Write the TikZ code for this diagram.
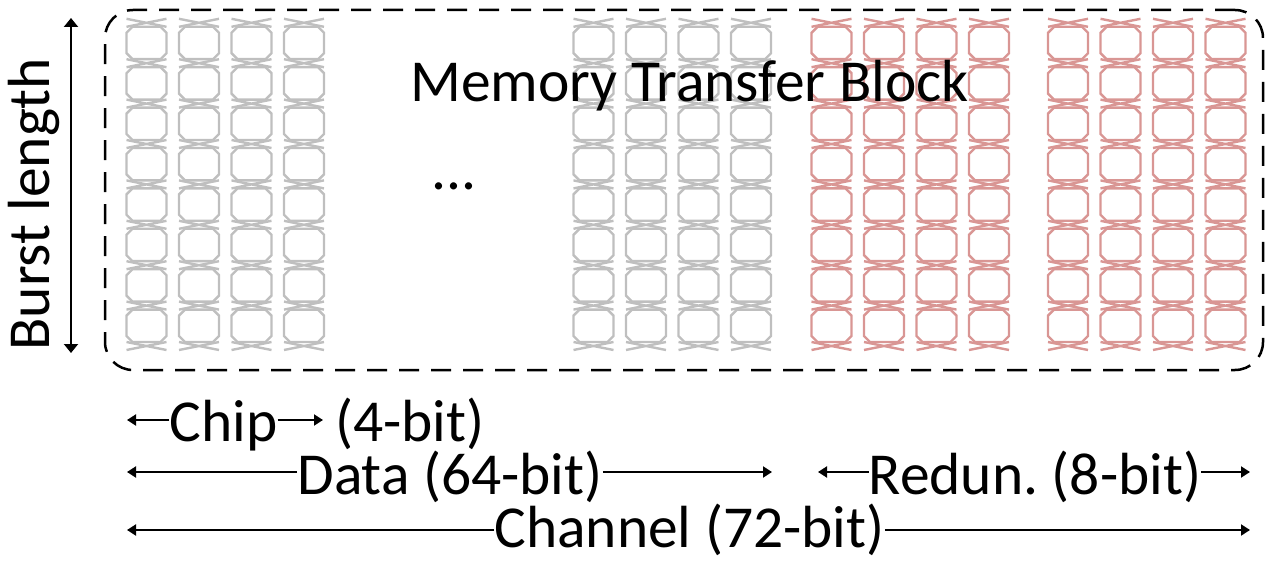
\documentclass[tikz,border=0pt]{standalone}
\usepackage{fontspec}
\setmainfont{Carlito}
\usetikzlibrary{arrows.meta}
\definecolor{eyegrey}{RGB}{191,191,191}
\definecolor{eyered}{RGB}{217,150,148}

% one lane of eye symbols: #1 = left x, #2 = colour
\newcommand\eyecolumn[2]{%
  \begin{scope}[eyeline, draw=#2]
    \foreach \j in {0,...,8}{
      \pgfmathsetmacro\yc{22.8+40.4*\j}
      \draw (#1,\yc-4) -- (#1+40,\yc+4) (#1+40,\yc-4) -- (#1,\yc+4);
    }
    \foreach \k in {0,...,7}{
      \pgfmathsetmacro\ya{22.8+40.4*\k+4}
      \pgfmathsetmacro\yb{22.8+40.4*(\k+1)-4}
      \draw (#1+6,\ya) -- (#1+34,\ya) -- (#1+40,\ya+6) -- (#1+40,\yb-6)
        -- (#1+34,\yb) -- (#1+6,\yb) -- (#1,\yb-6) -- (#1,\ya+6) -- cycle;
    }
  \end{scope}}

\begin{document}
\begin{tikzpicture}[x=1pt,y=-1pt,
  eyeline/.style={line width=2.4pt},
  lbl/.style={font=\fontsize{59.5}{62}\selectfont, inner sep=0pt, anchor=base},
  sarrow/.style={line width=2pt, -{Triangle[length=9pt,width=11pt]}},
  barrow/.style={line width=2pt, {Triangle[length=9pt,width=14pt]}-{Triangle[length=9pt,width=14pt]}},
  frame/.style={draw, line width=2.5pt, dash pattern=on 20pt off 12pt, rounded corners=28pt}]
\useasboundingbox (0,0) rectangle (1269,561);

% lanes of the transfer block
\foreach \x in {126.5,179,231.5,284,573.5,626,678.5,731}{\eyecolumn{\x}{eyegrey}}
\foreach \x in {811.5,864,916.5,969,1048,1100.5,1153,1205.5}{\eyecolumn{\x}{eyered}}

% dashed outline
\node[frame, minimum width=1158pt, minimum height=360pt, inner sep=0pt] (block) at (684,190) {};

\node[lbl] (title) at (689.5,102) {Memory Transfer Block};
\node[lbl] (dots) at (454,190) {...};

% burst length
\node[lbl, rotate=90] (burst) at (49,204.5) {Burst length};
\coordinate (bt) at (71,18);
\coordinate (bb) at (71,353);
\draw[barrow] (bt) -- (bb);

% widths
\node[lbl] (chip) at (223.5,441) {Chip};
\node[lbl] (chipbits) at (410,441) {(4-bit)};
\coordinate (chipL) at (127,420);
\coordinate (chipR) at (323,420);
\draw[sarrow] (chip.west |- chipL) -- (chipL);
\draw[sarrow] (chip.east |- chipR) -- (chipR);

\node[lbl] (data) at (450,494) {Data (64-bit)};
\coordinate (dataL) at (127,472);
\coordinate (dataR) at (772,472);
\draw[sarrow] (data.west |- dataL) -- (dataL);
\draw[sarrow] (data.east |- dataR) -- (dataR);

\node[lbl] (redun) at (1035,494) {Redun.\ (8-bit)};
\coordinate (redL) at (818,472);
\coordinate (redR) at (1250,472);
\draw[sarrow] (redun.west |- redL) -- (redL);
\draw[sarrow] (redun.east |- redR) -- (redR);

\node[lbl] (chan) at (689.5,547) {Channel (72-bit)};
\coordinate (chanL) at (127,530);
\coordinate (chanR) at (1250,530);
\draw[sarrow] (chan.west |- chanL) -- (chanL);
\draw[sarrow] (chan.east |- chanR) -- (chanR);
\end{tikzpicture}
\end{document}
